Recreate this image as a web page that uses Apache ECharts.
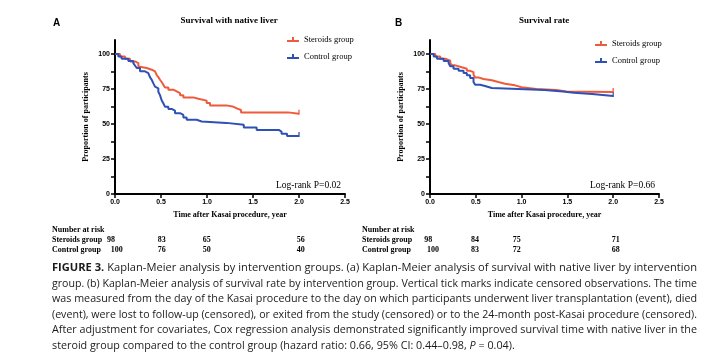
<!DOCTYPE html>
<html>
<head>
<meta charset="utf-8">
<script src="https://cdn.jsdelivr.net/npm/echarts@6/dist/echarts.min.js"></script>
<style>
html, body { margin: 0; padding: 0; background: #fff; }
#main { width: 720px; height: 354px; }
</style>
</head>
<body>
<div id="main"></div>
<script>
// Kaplan-Meier steps: [time in years, % of participants]
var nativeSteroids = [[0, 100], [0.054, 98.3], [0.109, 96.6], [0.163, 94.7], [0.217, 93.5], [0.254, 91], [0.272, 90],
	[0.344, 88.8], [0.399, 87.6], [0.435, 86.4], [0.453, 85], [0.471, 83.5], [0.489, 81.6], [0.507, 80], [0.525, 78],
	[0.543, 76], [0.58, 74.5], [0.634, 73.3], [0.67, 72], [0.707, 70.5], [0.743, 69], [0.851, 68], [0.906, 66.7],
	[0.996, 65], [1.033, 63.3], [1.21, 62.3], [1.29, 61], [1.33, 60], [1.37, 58.3], [1.88, 57.3], [2.0, 57.3]];
var nativeControl = [[0, 100], [0.036, 98.3], [0.072, 96.6], [0.145, 95], [0.199, 93.5], [0.217, 91.8], [0.236, 90],
	[0.272, 87.6], [0.326, 86.4], [0.362, 85], [0.38, 83.5], [0.399, 81.6], [0.417, 79], [0.435, 76.7], [0.453, 75.5],
	[0.471, 73], [0.489, 70.6], [0.507, 67], [0.525, 64.8], [0.543, 62.4], [0.58, 60.8], [0.616, 59.6], [0.652, 57.7],
	[0.707, 56.5], [0.743, 54.6], [0.779, 53], [0.888, 51.8], [0.942, 50.8], [1.21, 49.4], [1.4, 47.5], [1.54, 45.8],
	[1.78, 44.6], [1.81, 43], [1.87, 41.5], [2.0, 41.5]];
var survivalSteroids = [[0, 100], [0.058, 98.3], [0.112, 96.6], [0.167, 95.2], [0.221, 93.5], [0.239, 91.9], [0.275, 90.5],
	[0.348, 89.5], [0.402, 88], [0.438, 87], [0.475, 85.2], [0.493, 83.3], [0.529, 82.1], [0.583, 81.2], [0.674, 80],
	[0.746, 78.8], [0.819, 77.6], [0.928, 76.2], [1.0, 75], [1.16, 74.3], [1.38, 73.3], [1.49, 72.8], [2.0, 72.8]];
var survivalControl = [[0, 100], [0.04, 98.3], [0.076, 96.6], [0.149, 95], [0.203, 93.5], [0.221, 91.2], [0.257, 89.5],
	[0.312, 88], [0.366, 86.4], [0.402, 84.8], [0.438, 82.9], [0.475, 80], [0.493, 78], [0.547, 77.1], [0.601, 75.7],
	[0.674, 74.3], [1.25, 73.2], [1.45, 72.3], [1.57, 71.4], [1.77, 70], [2.0, 70]];

var yTicks = [0, 25, 50, 75, 100];
var yMinorTicks = [0, 12.5, 25, 37.5, 50, 62.5, 75, 87.5, 100];

var riskNativeSteroids = [98, 83, 65, 56];
var riskNativeControl = [100, 76, 50, 40];
var riskSurvivalSteroids = [98, 84, 75, 71];
var riskSurvivalControl = [100, 83, 72, 68];

var captionLines = [
	'FIGURE 3. Kaplan-Meier analysis by intervention groups. (a) Kaplan-Meier analysis of survival with native liver by intervention',
	'group. (b) Kaplan-Meier analysis of survival rate by intervention group. Vertical tick marks indicate censored observations. The time',
	'was measured from the day of the Kasai procedure to the day on which participants underwent liver transplantation (event), died',
	'(event), were lost to follow-up (censored), or exited from the study (censored) or to the 24-month post-Kasai procedure (censored).',
	'After adjustment for covariates, Cox regression analysis demonstrated significantly improved survival time with native liver in the',
	'steroid group compared to the control group (hazard ratio: 0.66, 95% CI: 0.44\u20130.98, P = 0.04).'
];

var RED = '#ee5b3b';
var BLUE = '#2f50b4';
var serif = 'Liberation Serif';
var sans = 'Liberation Sans';

var myChart = echarts.init(document.getElementById('main'));

function xAxisFor(i) {
	return {
		type: 'value', gridIndex: i, min: 0, max: 2.5, interval: 0.5,
		name: 'Time after Kasai procedure, year', nameLocation: 'middle', nameGap: 17,
		nameTextStyle: { fontFamily: serif, fontWeight: 'bold', fontSize: 8, color: '#000' },
		axisLine: { lineStyle: { color: '#000', width: 2 } },
		axisTick: { length: 4, lineStyle: { color: '#000', width: 1.5 } },
		axisLabel: { margin: 5, fontFamily: sans, fontWeight: 'bold', fontSize: 7, color: '#000',
			formatter: function (v) { return v.toFixed(1); } },
		splitLine: { show: false }
	};
}

function yAxisFor(i) {
	return {
		type: 'value', gridIndex: i, min: 0, max: 110,
		name: 'Proportion of participants', nameLocation: 'middle', nameGap: 25,
		nameTextStyle: { fontFamily: serif, fontWeight: 'bold', fontSize: 8, color: '#000' },
		axisLine: { show: true, lineStyle: { color: '#000', width: 2 } },
		axisTick: { show: true, length: 4, customValues: yMinorTicks, lineStyle: { color: '#000', width: 1.5 } },
		axisLabel: { margin: 5, customValues: yTicks, fontFamily: sans, fontWeight: 'bold', fontSize: 7, color: '#000' },
		splitLine: { show: false }
	};
}

function km(name, data, color, i) {
	return {
		name: name, type: 'line', step: 'end', xAxisIndex: i, yAxisIndex: i,
		data: data, symbol: 'none', color: color,
		lineStyle: { color: color, width: 2 }
	};
}

function censor(name, data, color, i) {
	return {
		name: name, type: 'scatter', xAxisIndex: i, yAxisIndex: i,
		data: [data[data.length - 1]], symbol: 'rect', symbolSize: [1.6, 5], symbolOffset: [0, -1.5],
		itemStyle: { color: color }, silent: true
	};
}

var legendIcon = 'path://M0,3L12,3L12,5L0,5Z M5,0L7,0L7,5L5,5Z';
function legendAt(left, top) {
	return {
		left: left, top: top, orient: 'vertical', itemWidth: 12, itemHeight: 5, itemGap: 8, icon: legendIcon,
		textStyle: { fontFamily: serif, fontSize: 8.5, color: '#000' },
		data: ['Steroids group', 'Control group']
	};
}

function txt(x, y, text, font, align) {
	return { type: 'text', x: x, y: y, silent: true,
		style: { text: text, font: font, fill: '#000', align: align || 'left', verticalAlign: 'middle' } };
}

var graphics = [];
graphics.push(txt(53, 23, 'A', 'bold 10px "' + sans + '"'));
graphics.push(txt(395, 23, 'B', 'bold 10px "' + sans + '"'));
graphics.push(txt(229, 21, 'Survival with native liver', 'bold 9px "' + serif + '"', 'center'));
graphics.push(txt(544, 21, 'Survival rate', 'bold 9px "' + serif + '"', 'center'));
graphics.push(txt(341, 185, 'Log-rank P=0.02', '9.5px "' + serif + '"', 'right'));
graphics.push(txt(655, 185, 'Log-rank P=0.66', '9.5px "' + serif + '"', 'right'));

// number at risk tables
var tableFont = 'bold 8px "' + serif + '"';
function riskTable(left, rows, xs) {
	graphics.push(txt(left, 230, 'Number at risk', tableFont));
	graphics.push(txt(left, 240, 'Steroids group', tableFont));
	graphics.push(txt(left, 250, 'Control group', tableFont));
	rows.forEach(function (row, r) {
		row.forEach(function (v, c) {
			graphics.push(txt(xs[r][c], 240 + r * 10, String(v), tableFont, 'center'));
		});
	});
}
riskTable(52, [riskNativeSteroids, riskNativeControl], [[111, 161.7, 206.7, 300.8], [116.7, 161.7, 206.7, 300.8]]);
riskTable(362, [riskSurvivalSteroids, riskSurvivalControl], [[428.3, 475, 516.7, 615.8], [433, 475, 516.7, 615.8]]);

// caption, stretched so each line is justified like the printed one
var capSize = 10.3;
var capFamily = '"Open Sans"';
var ctx = document.createElement('canvas').getContext('2d');
var lastScale = 1;
captionLines.forEach(function (line, i) {
	var text = line, width;
	if (i === 0) {
		ctx.font = 'bold ' + capSize + 'px ' + capFamily;
		width = ctx.measureText('FIGURE 3.').width;
		ctx.font = capSize + 'px ' + capFamily;
		width += ctx.measureText(line.slice(9)).width;
		text = '{b|FIGURE 3.}' + line.slice(9);
	} else {
		ctx.font = capSize + 'px ' + capFamily;
		width = ctx.measureText(line).width;
		if (i === captionLines.length - 1) {
			text = line.replace('P = ', '{i|P} = ');
		}
	}
	var scale = i === captionLines.length - 1 ? lastScale : 645 / width;
	lastScale = scale;
	graphics.push({
		type: 'text', x: 52, y: 268 + i * 15.6, scaleX: scale, silent: true,
		style: {
			text: text, fontFamily: 'Open Sans', fontSize: capSize, fill: '#1a1a1a', verticalAlign: 'middle',
			rich: {
				b: { fontFamily: 'Open Sans', fontSize: capSize, fontWeight: 'bold', fill: '#1a1a1a' },
				i: { fontFamily: 'Open Sans', fontSize: capSize, fontStyle: 'italic', fill: '#1a1a1a' }
			}
		}
	});
});

option = {
	animation: false,
	grid: [
		{ left: 115, top: 40, width: 230, height: 154, outerBoundsMode: 'none' },
		{ left: 430, top: 40, width: 229, height: 154, outerBoundsMode: 'none' }
	],
	legend: [legendAt(282, 30), legendAt(590, 34)],
	xAxis: [xAxisFor(0), xAxisFor(1)],
	yAxis: [yAxisFor(0), yAxisFor(1)],
	series: [
		km('Steroids group', nativeSteroids, RED, 0),
		km('Control group', nativeControl, BLUE, 0),
		censor('Steroids group', nativeSteroids, RED, 0),
		censor('Control group', nativeControl, BLUE, 0),
		km('Steroids group', survivalSteroids, RED, 1),
		km('Control group', survivalControl, BLUE, 1),
		censor('Steroids group', survivalSteroids, RED, 1),
		censor('Control group', survivalControl, BLUE, 1)
	],
	graphic: graphics
};

myChart.setOption(option);
</script>
</body>
</html>
